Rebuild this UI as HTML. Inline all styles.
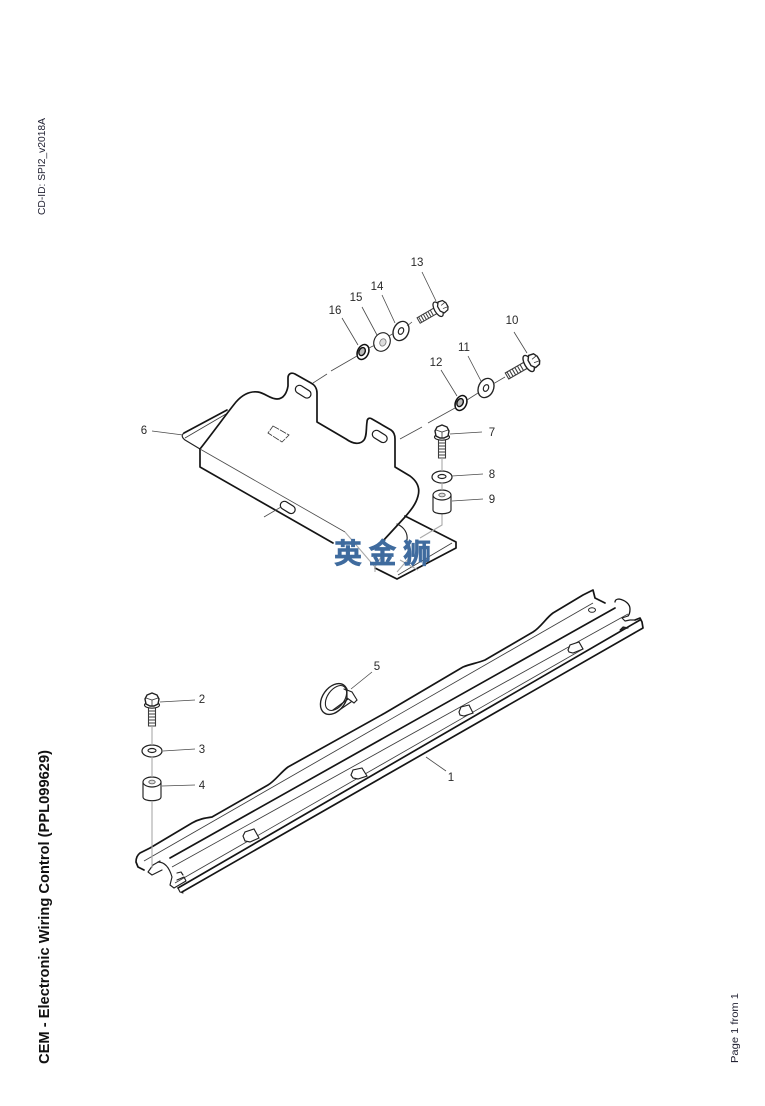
<!DOCTYPE html>
<html><head><meta charset="utf-8"><style>
html,body{margin:0;padding:0;background:#fff}
svg{display:block}
text{font-family:"Liberation Sans","Noto Sans CJK SC",sans-serif}
.n{font-size:11.5px;fill:#2a2a2a;text-anchor:middle}
.k{fill:none;stroke:#151515;stroke-width:1.7;stroke-linejoin:round;stroke-linecap:round}
.m{fill:none;stroke:#222;stroke-width:1.15;stroke-linejoin:round;stroke-linecap:round}
.t{fill:none;stroke:#3c3c3c;stroke-width:.85}
.l{fill:none;stroke:#4a4a4a;stroke-width:.8}
.g{fill:none;stroke:#aaa;stroke-width:1.1}
.w{fill:#fff;stroke:#222;stroke-width:1.15}
.s{fill:#fff;stroke:#1c1c1c;stroke-width:1.2}
</style></head><body>
<svg width="765" height="1106" viewBox="0 0 765 1106" xmlns="http://www.w3.org/2000/svg">
<defs>
<g id="bv"><path class="t" stroke-width="1" d="M-3.5 5V25H3.5V5M-3.5 10H3.5M-3.5 13H3.5M-3.5 16H3.5M-3.5 19H3.5M-3.5 22H3.5" style="stroke-width:1.1"/><ellipse class="w" cy="4" rx="7.5" ry="3.2"/><path class="w" style="stroke-width:1.4" d="M-7-2-5-6 0-8 5-6 7-2 6 3 2 5H-2L-6 3Z"/><path class="t" d="M-6-3 0-1 6-3M0-1V5"/></g>
<g id="bh"><path class="t" style="stroke-width:1.1" d="M-3.5 6V30H3.5V6M-3.5 13H3.5M-3.5 16H3.5M-3.5 19H3.5M-3.5 22H3.5M-3.5 25H3.5M-3.5 28H3.5"/><ellipse class="w" cy="5" rx="9" ry="4" style="stroke-width:1.4"/><path class="w" style="stroke-width:1.4" d="M-7 1-6-4-2-6H3L6-4 7 1 3 4H-3Z"/><path class="t" d="M-3-6-2 0M3-6 2 0"/></g>
<g id="wh"><ellipse class="w" rx="10" ry="6" style="stroke-width:1.25"/><ellipse class="w" cy="-.5" rx="4" ry="2"/></g>
<g id="sp"><path class="w" d="M-9-7V8C-9 13 9 13 9 8V-7"/><ellipse class="w" cy="-7" rx="9" ry="5"/><ellipse cy="-7" rx="3.2" ry="1.9" fill="#ddd" stroke="#555" stroke-width=".8"/></g>
</defs>

<!-- side texts -->
<text transform="translate(45,215) rotate(-90)" font-size="10" fill="#223" textLength="97" lengthAdjust="spacingAndGlyphs">CD-ID: SPI2_v2018A</text>
<text transform="translate(49,1064) rotate(-90)" font-size="15" font-weight="bold" fill="#111" textLength="314" lengthAdjust="spacingAndGlyphs">CEM - Electronic Wiring Control (PPL099629)</text>
<text transform="translate(738,1063) rotate(-90)" font-size="10.5" fill="#223" textLength="70" lengthAdjust="spacingAndGlyphs">Page 1 from 1</text>

<!-- bracket -->
<path class="m" d="M200 449 185 440Q180 436 184 433"/>
<path class="k" d="M184 433 227 410"/>
<path class="t" d="M185 438 226 414"/>
<path class="k" d="M200 449V467L333 543"/>
<path class="k" d="M375 568 397 579 456 548V542L405 516"/>
<path class="t" d="M398 575 452 543"/>
<path class="k" d="M200 449C215 430 227 413 236 402C243 394 250 391 258 392C265 393 270 399 277 399C284 399 287 392 288 386V378C288 374 291 372 295 374L311 383C315 385 317 389 317 393V422L346 439C353 444 360 445 364 440C367 436 366 428 367 422C367 419 369 417 372 419L391 430C394 432 395 435 395 439V467L410 476C418 482 420 489 418 496C416 504 411 510 405 517L382 542"/>
<path class="m" d="M397 524C404 527 408 533 407 540"/>
<rect class="s" x="-8" y="-3.5" width="17" height="8" rx="4" transform="translate(303,391) rotate(32)"/>
<rect class="s" x="-8" y="-3.5" width="16" height="8" rx="4" transform="translate(380,436) rotate(32)"/>
<rect class="s" x="-8" y="-3.5" width="16" height="8" rx="4" transform="translate(288,507) rotate(32)"/>
<path class="t" d="M273 426 289 435 282 442 268 433Z" stroke-dasharray="7 1"/>
<path class="l" d="M200 449 345 532"/>
<path class="g" d="M345 532 375 567V572M375 567 384 552"/>
<path class="g" d="M442 513V525L420 538M397 572 410 557M400 560 418 570"/>
<path class="l" d="M264 517 281 507"/>

<!-- upper fasteners -->
<use href="#bv" transform="translate(442,433)"/>
<use href="#wh" transform="translate(442,477)"/>
<use href="#sp" transform="translate(442,502)"/>
<path class="g" d="M442 458V471M442 482V490"/>

<use href="#bh" transform="translate(533,361) rotate(60)"/>
<use href="#bh" transform="translate(442,307) rotate(60) scale(.9)"/>

<g transform="translate(486,388) rotate(25)"><ellipse class="w" rx="7.5" ry="10" style="stroke-width:1.35"/><ellipse class="w" rx="2.5" ry="3.5"/></g>
<g transform="translate(401,331) rotate(25)"><ellipse class="w" rx="7.5" ry="10" style="stroke-width:1.35"/><ellipse class="w" rx="2.5" ry="3.5"/></g>
<g transform="translate(382,342) rotate(25)"><ellipse class="w" rx="8" ry="9.5"/><ellipse cx="1" rx="3" ry="3.8" fill="#ddd" stroke="#777" stroke-width=".8"/></g>
<g transform="translate(461,403) rotate(25)"><ellipse rx="5.5" ry="7.8" fill="#fff" stroke="#111" stroke-width="1.5"/><ellipse cx="-1" rx="3" ry="4.2" fill="#bbb" stroke="#111" stroke-width="1.4"/></g>
<g transform="translate(363,352) rotate(25)"><ellipse rx="5.5" ry="7.8" fill="#fff" stroke="#111" stroke-width="1.5"/><ellipse cx="-1" rx="3" ry="4.2" fill="#bbb" stroke="#111" stroke-width="1.4"/></g>

<path class="l" d="M505 377 493 384M478 393 467 400M455 408 428 423M422 427 400 439M412 322 407 326M394 333 389 336M375 345 369 348M357 356 331 371M327 374 313 383"/>

<!-- leaders upper -->
<path class="l" d="M422 272 436 301M382 295 395 323M362 307 377 335M342 318 358 345M514 332 527 353M468 356 481 381M441 370 457 396M152 431 183 435M450 434 482 432M452 476 483 474M452 501 483 499"/>

<!-- rail -->
<path class="k" d="M150 848 140 853Q136 856 136 862L138 867 144 870M150 848 192 823C199 819 205 818 212 817L268 785C275 781 281 772 288 767L385 713 463 667C470 664 478 663 485 660L533 632C541 627 546 618 553 613L583 595 593 590 595 598 605 603"/>
<path class="t" d="M144 861 593 603"/>
<path class="k" d="M170 858 615 608"/>
<path class="t" d="M172 867 628 614"/>
<path class="t" d="M175 883 583 649"/>
<path class="k" d="M178 888 640 620"/>
<path class="k" d="M182 892 643 628 642 622 640 618 635 620"/>
<path class="m" d="M178 888 180 892 183 893"/>

<!-- rail end left -->
<path class="m" d="M148 872 153 865 160 861M148 872 152 875 162 870"/>
<path class="m" d="M158 862C166 862 170 870 172 877"/>
<path class="m" d="M172 877 170 885 174 888 186 881 184 877 177 880M177 873 181 872 183 875"/>

<!-- rail end right -->
<path class="k" d="M615 602C615 600 617 599 619 599 625 600 630 604 630 609 630 613 629 615 628 616" style="stroke-width:1.3"/>
<path class="m" d="M628 616 622 618 625 621 630 620 635 620"/>
<path class="m" d="M620 630 623 627 628 628Z" style="fill:#333"/>
<ellipse cx="592" cy="610" rx="3.5" ry="2.3" fill="#fff" stroke="#222" stroke-width="1"/>

<!-- rail slots -->
<g fill="#fff" stroke="#222" stroke-width="1.15">
<path d="M243 836 245 832 254 829 259 838 250 842 245 841Z"/>
<path d="M351 775 353 770 362 768 367 776 358 779 353 778Z"/>
<path d="M459 712 461 707 469 705 473 713 464 716 460 715Z"/>
<path d="M568 650 570 645 579 642 583 649 573 653 569 652Z"/>
</g>

<!-- lower fasteners -->
<use href="#bv" transform="translate(152,701)"/>
<use href="#wh" transform="translate(152,751)"/>
<use href="#sp" transform="translate(152,789)"/>
<path class="g" d="M152 726V745M152 756V777M152 802V868"/>
<path class="l" d="M160 702 195 700M163 751 195 749M162 786 195 785"/>

<!-- clamp -->
<ellipse cx="334" cy="699" rx="11.5" ry="17" transform="rotate(35 334 699)" fill="none" stroke="#222" stroke-width="1.4"/>
<ellipse cx="336" cy="698" rx="8.5" ry="14" transform="rotate(35 336 698)" fill="none" stroke="#222" stroke-width="1.1"/>
<path class="m" d="M335 713 351 702M333 710 348 699M344 689 350 692"/>
<path d="M347 690 352 692 357 700 354 703 347 698Z" fill="#fff" stroke="#222" stroke-width="1.15"/>
<path class="l" d="M351 689 372 672M426 757 446 771"/>

<!-- numbers -->
<text class="n" x="451" y="781">1</text>
<text class="n" x="202" y="703">2</text>
<text class="n" x="202" y="753">3</text>
<text class="n" x="202" y="789">4</text>
<text class="n" x="377" y="670">5</text>
<text class="n" x="144" y="434">6</text>
<text class="n" x="492" y="436">7</text>
<text class="n" x="492" y="478">8</text>
<text class="n" x="492" y="503">9</text>
<text class="n" x="512" y="324">10</text>
<text class="n" x="464" y="351">11</text>
<text class="n" x="436" y="366">12</text>
<text class="n" x="417" y="266">13</text>
<text class="n" x="377" y="290">14</text>
<text class="n" x="356" y="301">15</text>
<text class="n" x="335" y="314">16</text>

<!-- watermark -->
<text x="334" y="563" font-size="28" font-weight="bold" fill="#3f6b9e" stroke="#3f6b9e" stroke-width=".6" letter-spacing="6.5" style='font-family:"Noto Sans CJK SC",sans-serif'>英金狮</text>
</svg>
</body></html>
